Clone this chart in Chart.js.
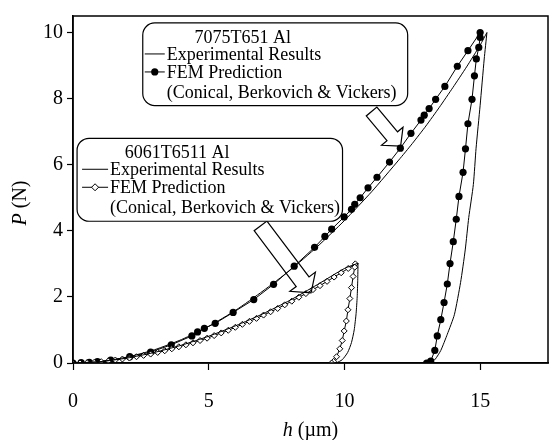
<!DOCTYPE html>
<html>
<head>
<meta charset="utf-8">
<script src="https://cdn.jsdelivr.net/npm/chart.js@4.4.1/dist/chart.umd.min.js"></script>
<style>
  html, body { margin: 0; padding: 0; background: #fff; }
</style>
</head>
<body>
<canvas id="plot" width="553" height="440"></canvas>
<script>
// ---- data: h in µm, P in N ----

// 7075T651 Al, FEM prediction (filled dots)
var h7075FemLoad = [0, 0.3, 0.6, 0.9, 1.39, 2.09, 2.86, 3.62, 4.38, 4.59, 4.84, 5.24, 5.9, 6.66, 7.39, 8.15, 8.9, 9.28, 9.53, 9.99, 10.26, 10.38, 10.58, 10.87, 11.2, 11.66, 12.06, 12.45, 12.82, 12.94, 13.12, 13.36, 13.7, 14.16, 14.55, 15.0];
var p7075FemLoad = [0, 0.01, 0.02, 0.04, 0.09, 0.19, 0.33, 0.55, 0.82, 0.94, 1.05, 1.2, 1.53, 1.92, 2.38, 2.93, 3.5, 3.83, 4.05, 4.42, 4.65, 4.8, 5.0, 5.3, 5.62, 6.08, 6.5, 6.95, 7.35, 7.5, 7.7, 7.98, 8.37, 8.98, 9.45, 10.0];
var h7075FemUnload = [15.0, 14.95, 14.86, 14.79, 14.7, 14.55, 14.46, 14.37, 14.22, 14.12, 14.01, 13.89, 13.79, 13.67, 13.55, 13.42, 13.33, 13.18, 13.03];
var p7075FemUnload = [9.85, 9.55, 9.2, 8.69, 7.98, 7.24, 6.48, 5.77, 5.04, 4.35, 3.67, 3.01, 2.39, 1.83, 1.31, 0.82, 0.38, 0.06, 0.0];

// 7075T651 Al, experimental results (plain line)
var h7075ExpLoad = [0, 1, 2, 3, 4, 5, 6, 7, 8, 9, 10, 11, 12, 12.5, 13, 13.5, 14, 14.5, 15, 15.25];
var p7075ExpLoad = [0, 0.04, 0.18, 0.4, 0.71, 1.11, 1.6, 2.18, 2.81, 3.52, 4.31, 5.18, 6.14, 6.64, 7.17, 7.74, 8.34, 8.96, 9.62, 10.0];
var h7075ExpUnload = [15.25, 15.15, 15.0, 14.85, 14.75, 14.58, 14.45, 14.28, 14.05, 13.79, 13.55, 13.35, 13.18];
var p7075ExpUnload = [10.0, 9.2, 7.8, 6.5, 5.4, 4.4, 3.42, 2.44, 1.46, 0.87, 0.38, 0.12, 0];

// 6061T6511 Al, FEM prediction (open diamonds)
var h6061FemLoad = [0, 0.26, 0.52, 0.78, 1.04, 1.3, 1.56, 1.82, 2.08, 2.34, 2.6, 2.86, 3.12, 3.38, 3.64, 3.9, 4.16, 4.42, 4.68, 4.94, 5.2, 5.46, 5.72, 5.98, 6.24, 6.5, 6.76, 7.02, 7.28, 7.54, 7.8, 8.06, 8.32, 8.58, 8.84, 9.1, 9.36, 9.62, 9.88, 10.14, 10.4];
var p6061FemLoad = [0, 0, 0.01, 0.02, 0.04, 0.06, 0.09, 0.12, 0.15, 0.19, 0.23, 0.27, 0.32, 0.37, 0.43, 0.49, 0.55, 0.61, 0.68, 0.75, 0.83, 0.91, 0.99, 1.08, 1.17, 1.26, 1.35, 1.45, 1.55, 1.65, 1.76, 1.87, 1.99, 2.1, 2.22, 2.34, 2.47, 2.6, 2.73, 2.86, 3.0];
var h6061FemUnload = [10.38, 10.32, 10.26, 10.2, 10.13, 10.07, 9.99, 9.92, 9.83, 9.71, 9.6, 9.53];
var p6061FemUnload = [2.9, 2.62, 2.28, 1.95, 1.61, 1.27, 0.97, 0.68, 0.43, 0.19, 0.05, 0];

// 6061T6511 Al, experimental results (plain line)
var h6061ExpLoad = [0, 1, 2, 3, 4, 5, 6, 7, 8, 9, 10, 10.5];
var p6061ExpLoad = [0, 0.04, 0.15, 0.32, 0.54, 0.81, 1.13, 1.49, 1.9, 2.37, 2.86, 3.02];
var h6061ExpUnload = [10.5, 10.49, 10.47, 10.43, 10.36, 10.26, 10.12, 9.92, 9.7];
var p6061ExpUnload = [3.02, 2.5, 2.0, 1.5, 1.0, 0.62, 0.32, 0.1, 0];

var xTicks = [0, 5, 10, 15];
var yTicks = [0, 2, 4, 6, 8, 10];

var serif = '"Liberation Serif", "Times New Roman", Times, serif';

function pts(hs, ps) {
  return hs.map(function (h, i) { return { x: h, y: ps[i] }; });
}

function expLine(data) {
  return {
    data: data, showLine: true, borderColor: '#000', borderWidth: 1,
    pointRadius: 0, tension: 0.2, fill: false
  };
}

var datasets = [
  expLine(pts(h7075ExpLoad, p7075ExpLoad)),
  expLine(pts(h7075ExpUnload, p7075ExpUnload)),
  expLine(pts(h6061ExpLoad, p6061ExpLoad)),
  expLine(pts(h6061ExpUnload, p6061ExpUnload)),
  {
    data: pts(h6061FemLoad.concat(h6061FemUnload), p6061FemLoad.concat(p6061FemUnload)),
    showLine: true, borderColor: '#000', borderWidth: 1, tension: 0,
    pointStyle: 'rectRot', pointRadius: 3, pointBackgroundColor: '#fff',
    pointBorderColor: '#000', pointBorderWidth: 1
  },
  {
    data: pts(h7075FemLoad.concat(h7075FemUnload), p7075FemLoad.concat(p7075FemUnload)),
    showLine: true, borderColor: '#000', borderWidth: 1, tension: 0,
    pointStyle: 'circle', pointRadius: 3.6, pointBackgroundColor: '#000',
    pointBorderColor: '#000', pointBorderWidth: 0
  }
];

// outlined block arrow from tail (tx,ty) to tip (hx,hy)
function blockArrow(ctx, tx, ty, hx, hy, w, W, L) {
  var dx = hx - tx, dy = hy - ty, len = Math.sqrt(dx * dx + dy * dy);
  var ux = dx / len, uy = dy / len, nx = -uy, ny = ux;
  var bx = hx - ux * L, by = hy - uy * L;
  ctx.beginPath();
  ctx.moveTo(tx + nx * w, ty + ny * w);
  ctx.lineTo(bx + nx * w, by + ny * w);
  ctx.lineTo(bx + nx * W, by + ny * W);
  ctx.lineTo(hx, hy);
  ctx.lineTo(bx - nx * W, by - ny * W);
  ctx.lineTo(bx - nx * w, by - ny * w);
  ctx.lineTo(tx - nx * w, ty - ny * w);
  ctx.closePath();
  ctx.stroke();
}

function roundBox(ctx, x0, y0, x1, y1, r) {
  ctx.beginPath();
  ctx.moveTo(x0 + r, y0);
  ctx.lineTo(x1 - r, y0);
  ctx.arcTo(x1, y0, x1, y0 + r, r);
  ctx.lineTo(x1, y1 - r);
  ctx.arcTo(x1, y1, x1 - r, y1, r);
  ctx.lineTo(x0 + r, y1);
  ctx.arcTo(x0, y1, x0, y1 - r, r);
  ctx.lineTo(x0, y0 + r);
  ctx.arcTo(x0, y0, x0 + r, y0, r);
  ctx.closePath();
  ctx.fillStyle = '#fff';
  ctx.fill();
  ctx.stroke();
}

// legend box: corners in data units, marker 'dot' or 'diamond'
function legendBox(ctx, px, py, box) {
  var x0 = px(box.h0), x1 = px(box.h1), y0 = py(box.p0), y1 = py(box.p1);
  ctx.lineWidth = 1.2;
  ctx.strokeStyle = '#000';
  roundBox(ctx, x0, y0, x1, y1, 12);
  ctx.fillStyle = '#000';
  ctx.font = '18px ' + serif;
  ctx.textBaseline = 'alphabetic';
  ctx.textAlign = 'center';
  ctx.fillText(box.title, x0 + 100, y0 + 20);
  ctx.textAlign = 'left';
  ctx.fillText('Experimental Results', x0 + box.textX, y0 + 37);
  ctx.fillText('FEM Prediction', x0 + box.textX, y0 + 55);
  ctx.fillText('(Conical, Berkovich & Vickers)', x0 + box.textX, y0 + 75);
  ctx.lineWidth = 1;
  ctx.beginPath();
  ctx.moveTo(x0 + box.lineA, y0 + 31); ctx.lineTo(x0 + box.lineB, y0 + 31);
  ctx.moveTo(x0 + box.lineA, y0 + 49); ctx.lineTo(x0 + box.lineB, y0 + 49);
  ctx.stroke();
  var mx = x0 + (box.lineA + box.lineB) / 2, my = y0 + 49;
  ctx.beginPath();
  if (box.marker === 'dot') {
    ctx.arc(mx, my, 3.6, 0, Math.PI * 2);
    ctx.fillStyle = '#000';
    ctx.fill();
  } else {
    ctx.moveTo(mx, my - 3.5); ctx.lineTo(mx + 3.5, my);
    ctx.lineTo(mx, my + 3.5); ctx.lineTo(mx - 3.5, my);
    ctx.closePath();
    ctx.fillStyle = '#fff';
    ctx.fill();
    ctx.stroke();
  }
}

var annotations = {
  id: 'annotations',
  afterDraw: function (chart) {
    var ctx = chart.ctx, a = chart.chartArea;
    var xs = chart.scales.x, ys = chart.scales.y;
    var px = function (v) { return xs.getPixelForValue(v); };
    var py = function (v) { return ys.getPixelForValue(v); };
    ctx.save();

    // plot frame
    ctx.strokeStyle = '#000';
    ctx.lineWidth = 1.5;
    ctx.strokeRect(a.left, a.top, a.right - a.left, a.bottom - a.top);

    // arrows (outline only, curves show through)
    ctx.lineWidth = 1.2;
    blockArrow(ctx, px(11.0), py(7.61), px(12.07), py(6.56), 6.9, 14, 13);
    blockArrow(ctx, px(6.91), py(4.15), px(8.77), py(2.12), 8, 16, 14);

    legendBox(ctx, px, py, { h0: 2.57, h1: 12.33, p0: 10.29, p1: 7.79, title: '7075T651 Al',
      marker: 'dot', textX: 24, lineA: 2, lineB: 22 });
    legendBox(ctx, px, py, { h0: 0.15, h1: 9.93, p0: 6.8, p1: 4.29, title: '6061T6511 Al',
      marker: 'diamond', textX: 33, lineA: 5, lineB: 31 });

    // axis titles with italic symbols
    ctx.fillStyle = '#000';
    ctx.textBaseline = 'alphabetic';
    ctx.textAlign = 'left';
    var it = 'italic 20px ' + serif, up = '20px ' + serif;
    ctx.font = it; var w1 = ctx.measureText('h').width;
    ctx.font = up; var w2 = ctx.measureText(' (\u00b5m)').width;
    var cx = (a.left + a.right) / 2 - (w1 + w2) / 2;
    ctx.font = it; ctx.fillText('h', cx, 436);
    ctx.font = up; ctx.fillText(' (\u00b5m)', cx + w1, 436);

    ctx.translate(26, 203);
    ctx.rotate(-Math.PI / 2);
    ctx.font = it; var v1 = ctx.measureText('P').width;
    ctx.font = up; var v2 = ctx.measureText(' (N)').width;
    ctx.font = it; ctx.fillText('P', -(v1 + v2) / 2, 0);
    ctx.font = up; ctx.fillText(' (N)', -(v1 + v2) / 2 + v1, 0);
    ctx.restore();
  }
};

var ctx = document.getElementById('plot');
var chart = new Chart(ctx, {
  type: 'scatter',
  data: { datasets: datasets },
  options: {
    responsive: false,
    animation: false,
    devicePixelRatio: 1,
    layout: { padding: { top: 7, right: 2, left: 0, bottom: 0 } },
    plugins: { legend: { display: false }, tooltip: { enabled: false } },
    scales: {
      x: {
        type: 'linear', min: 0, max: 17.5,
        afterFit: function (s) { s.height = 77; },
        afterBuildTicks: function (s) { s.ticks = xTicks.map(function (v) { return { value: v }; }); },
        border: { display: true, color: '#000', width: 1.5 },
        grid: { drawOnChartArea: false, drawTicks: true, tickLength: 7, color: '#000', tickWidth: 1.2 },
        ticks: { color: '#000', padding: 20, maxRotation: 0, font: { family: serif, size: 20 } }
      },
      y: {
        type: 'linear', min: 0, max: 10.5,
        afterFit: function (s) { s.width = 73; },
        afterBuildTicks: function (s) { s.ticks = yTicks.map(function (v) { return { value: v }; }); },
        border: { display: true, color: '#000', width: 1.5 },
        grid: { drawOnChartArea: false, drawTicks: true, tickLength: 6, color: '#000', tickWidth: 1.2 },
        ticks: { color: '#000', padding: 4, font: { family: serif, size: 20 } }
      }
    }
  },
  plugins: [annotations]
});
</script>
</body>
</html>
